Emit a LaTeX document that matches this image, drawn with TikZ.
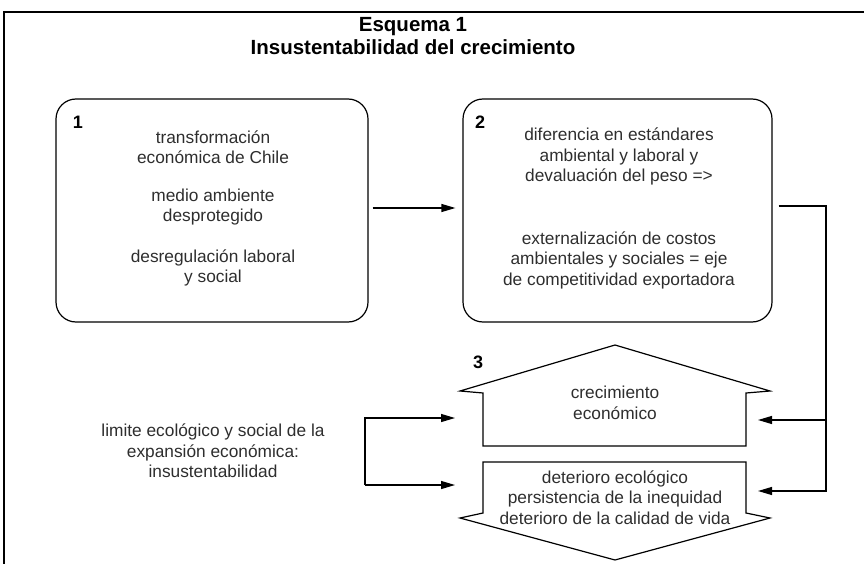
\documentclass[tikz,border=0pt]{standalone}
\usepackage{fontspec}
\setmainfont{Liberation Sans}
\usetikzlibrary{arrows.meta}
\definecolor{txtgray}{gray}{0.18}
\begin{document}
\begin{tikzpicture}[x=1pt,y=-1pt,
  box/.style={draw, line width=1.2pt, rounded corners=20pt, minimum height=223pt, inner sep=0pt},
  txt/.style={align=center, text=txtgray, font=\fontsize{17.3}{20.5}\selectfont, inner sep=0pt},
  num/.style={font=\fontsize{18}{20}\selectfont\bfseries, inner sep=0pt},
  arr/.style={line width=1.2pt, -{Triangle[length=14pt,width=8pt]}},
  shp/.style={draw, line width=1.2pt, line join=miter},
  ttl/.style={font=\fontsize{20.5}{23}\selectfont\bfseries, align=center, inner sep=0pt}]
\useasboundingbox (0,0) rectangle (864,564);
\draw[line width=2pt] (4,564) -- (4,12) -- (864,12);

% title
\node[ttl] (title) at (413,36.5) {Esquema 1\\Insustentabilidad del crecimiento};

% box 1
\node[box, minimum width=312pt] (b1) at (212,210.5) {};
\node[num] (n1) at (78,122) {1};
\node[txt] (t1a) at (213,147) {transformación\\económica de Chile};
\node[txt] (t1b) at (213,207) {medio ambiente\\desprotegido};
\node[txt] (t1c) at (213,268) {desregulación laboral\\y social};

% box 2
\node[box, minimum width=309pt] (b2) at (617.5,210.5) {};
\node[num] (n2) at (480,122) {2};
\node[txt] (t2a) at (619,156.5) {diferencia en estándares\\ambiental y laboral y\\devaluación del peso =>};
\node[txt] (t2b) at (619,260) {externalización de costos\\ambientales y sociales = eje\\de competitividad exportadora};

% arrow 1 -> 2
\draw[arr] ([xshift=4pt,yshift=2.5pt]b1.east) -- ([xshift=-7pt,yshift=2.5pt]b2.west);

% shape 3 (up arrow)
\draw[shp] (615,345) -- (770,391) -- (746,393) -- (746,446) -- (483,446) -- (483,393) -- (460,391) -- cycle;
\node[num] (n3) at (478,362) {3};
\node[txt] (grow) at (615,403) {crecimiento\\económico};

% down arrow
\draw[shp] (483,462) -- (746,462) -- (746,513) -- (770,518) -- (615,560) -- (460,518) -- (483,513) -- cycle;
\node[txt] (det) at (615,497.5) {deterioro ecológico\\persistencia de la inequidad\\deterioro de la calidad de vida};

% right connector
\coordinate (r1) at (826,206);
\coordinate (r2) at (826,491);
\coordinate (tipU) at (758,420);
\coordinate (tipD) at (758,491);
\draw[arr] ([xshift=6pt,yshift=4.5pt]b2.east) -- (r1) -- (r2) -- (tipD);
\draw[arr] (r1 |- tipU) -- (tipU);

% left text and bracket
\node[txt] (lim) at (213,451) {limite ecológico y social de la\\expansión económica:\\insustentabilidad};
\coordinate (lb1) at (365,418);
\coordinate (lb2) at (365,485);
\coordinate (tipL1) at (455,418);
\coordinate (tipL2) at (455,485);
\draw[arr] (lb2) -- (lb1) -- (tipL1);
\draw[arr] (lb2) -- (tipL2);
\end{tikzpicture}
\end{document}
